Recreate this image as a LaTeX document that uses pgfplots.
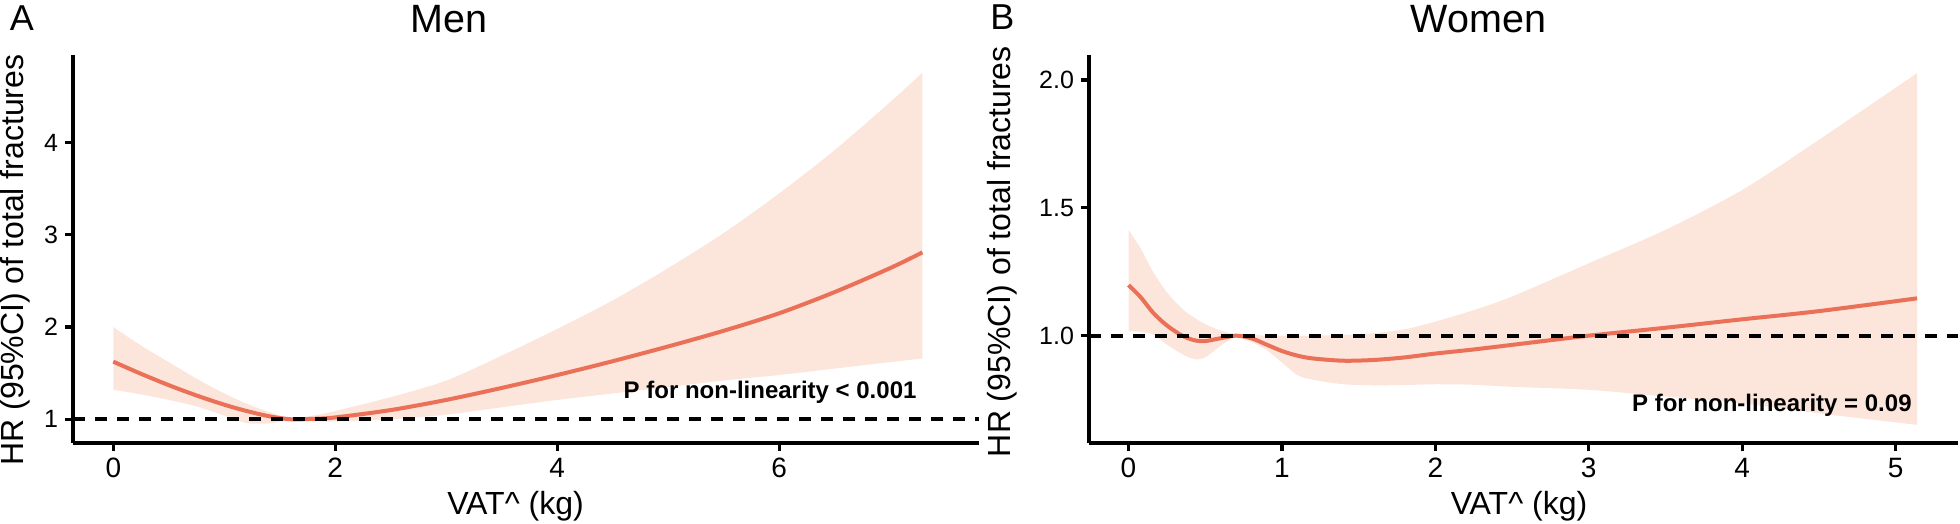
\documentclass[border=0pt]{standalone}
\usepackage{fontspec}
\setmainfont{Liberation Sans}
\usepackage{pgfplots}
\pgfplotsset{compat=1.18}
\usepackage{pgfplotstable}
\usepgfplotslibrary{fillbetween}
\definecolor{linec}{RGB}{234,112,87}
\definecolor{bandc}{RGB}{252,229,219}

\pgfplotstableread{
x hr lo hi
0 1.625 1.32 2.00
0.25 1.493 1.27 1.80
0.5 1.37 1.21 1.62
0.75 1.258 1.14 1.44
1.0 1.158 1.04 1.28
1.2 1.09 0.96 1.17
1.4 1.034 0.955 1.08
1.6 1.00 0.99 1.015
1.8 1.005 0.98 1.04
2.0 1.02 0.975 1.09
2.5 1.10 1.00 1.24
3.0 1.21 1.05 1.42
3.5 1.34 1.13 1.69
4.0 1.48 1.21 1.98
4.5 1.63 1.28 2.29
5.0 1.79 1.35 2.64
5.5 1.96 1.42 3.02
6.0 2.15 1.48 3.45
6.5 2.38 1.55 3.92
7.0 2.64 1.62 4.44
7.29 2.81 1.66 4.76
}\men

\pgfplotstableread{
x hr lo hi
0 1.198 1.018 1.414
0.08 1.15 1.015 1.34
0.16 1.09 1.005 1.25
0.25 1.04 0.965 1.17
0.35 1.00 0.928 1.105
0.43 0.982 0.908 1.07
0.5 0.979 0.915 1.045
0.6 0.99 0.96 1.02
0.7 1.00 0.995 1.005
0.8 0.99 0.975 1.003
0.9 0.965 0.944 1.0
1.0 0.94 0.895 1.0
1.1 0.922 0.846 1.0
1.2 0.911 0.828 1.0
1.4 0.902 0.81 1.003
1.6 0.905 0.806 1.01
1.8 0.915 0.807 1.025
2.0 0.93 0.81 1.055
2.25 0.946 0.808 1.10
2.5 0.964 0.80 1.153
3.0 1.0 0.788 1.283
3.5 1.031 0.762 1.414
4.0 1.064 0.735 1.57
4.5 1.096 0.696 1.766
5.14 1.146 0.651 2.027
}\women

\pgfplotsset{hrstyle/.style={
  scale only axis,
  axis lines=left,
  axis line style={line width=2pt,-},
  tick align=outside,
  major tick length=4pt,
  every tick/.style={line width=1.6pt,black},
  /pgf/number format/assume math mode=true,
  xticklabel style={font=\fontsize{14}{14}\selectfont},
  yticklabel style={font=\fontsize{12.5}{12.5}\selectfont},
}}

\begin{document}
\begin{tikzpicture}
\path (0,0) rectangle (980pt,262pt);

\begin{axis}[hrstyle,
  at={(36.5pt,40.65pt)}, anchor=south west,
  width=453pt, height=193.85pt,
  xmin=-0.363, xmax=7.80, ymin=0.746, ymax=4.951,
  xtick={0,2,4,6}, ytick={1,2,3,4}]
\addplot[name path=mup, draw=none, smooth] table[x=x,y=hi] {\men};
\addplot[name path=mlo, draw=none, smooth] table[x=x,y=lo] {\men};
\addplot[fill=bandc, draw=none] fill between[of=mup and mlo];
\addplot[linec, line width=2pt, smooth] table[x=x,y=hr] {\men};
\addplot[black, line width=2pt, dash pattern=on 6pt off 5pt] coordinates {(-0.363,1) (7.80,1)};
\node[anchor=base east, inner sep=0, font=\bfseries\fontsize{12}{12}\selectfont] at (axis cs:7.24,1.228) {P for non-linearity < 0.001};
\end{axis}

\begin{axis}[hrstyle,
  at={(544.5pt,40.35pt)}, anchor=south west,
  width=434.5pt, height=194.15pt,
  xmin=-0.2575, xmax=5.407, ymin=0.579, ymax=2.098,
  xtick={0,1,2,3,4,5}, ytick={1.0,1.5,2.0},
  yticklabel style={/pgf/number format/fixed, /pgf/number format/fixed zerofill, /pgf/number format/precision=1}]
\addplot[name path=wup, draw=none, smooth, tension=0.5] table[x=x,y=hi] {\women};
\addplot[name path=wlo, draw=none, smooth, tension=0.5] table[x=x,y=lo] {\women};
\addplot[fill=bandc, draw=none] fill between[of=wup and wlo];
\addplot[linec, line width=2pt, smooth, tension=0.5] table[x=x,y=hr] {\women};
\addplot[black, line width=2pt, dash pattern=on 6pt off 5pt] coordinates {(-0.2575,1) (5.407,1)};
\node[anchor=base east, inner sep=0, font=\bfseries\fontsize{12}{12}\selectfont] at (axis cs:5.107,0.703) {P for non-linearity = 0.09};
\end{axis}

\node[anchor=base, inner sep=0, font=\fontsize{19.75}{20}\selectfont] at (224.35pt,245.5pt) {Men};
\node[anchor=base, inner sep=0, font=\fontsize{19.75}{20}\selectfont] at (739.25pt,245.5pt) {Women};
\node[anchor=base west, inner sep=0, font=\fontsize{18}{18}\selectfont] at (4.7pt,246.5pt) {A};
\node[anchor=base west, inner sep=0, font=\fontsize{18}{18}\selectfont] at (495pt,247pt) {B};
\node[rotate=90, inner sep=0, font=\fontsize{16}{16}\selectfont] at (7.5pt,132pt) {HR (95\%CI) of total fractures};
\node[rotate=90, inner sep=0, font=\fontsize{16}{16}\selectfont] at (500.95pt,136.15pt) {HR (95\%CI) of total fractures};
\node[anchor=base, inner sep=0, font=\fontsize{16}{16}\selectfont] at (257.75pt,4.5pt) {VAT\textasciicircum{} (kg)};
\node[anchor=base, inner sep=0, font=\fontsize{16}{16}\selectfont] at (759.5pt,4.5pt) {VAT\textasciicircum{} (kg)};
\end{tikzpicture}
\end{document}
